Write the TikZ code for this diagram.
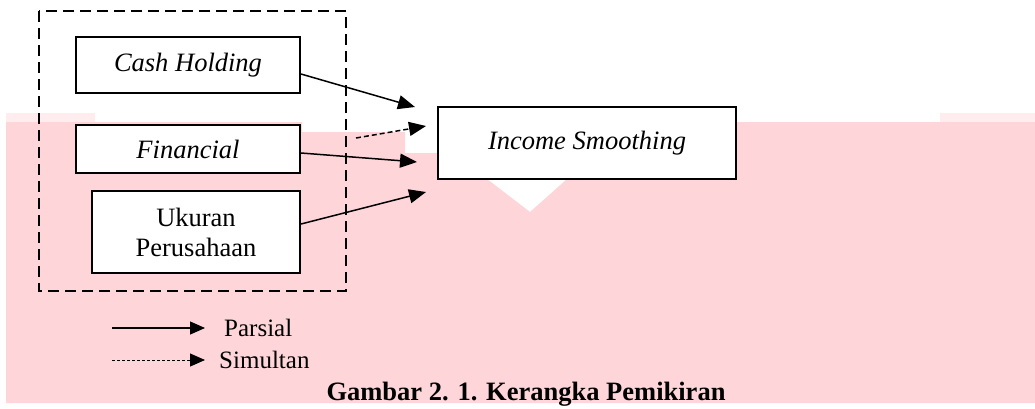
\documentclass[tikz,border=0pt]{standalone}
\usepackage{fontspec}
\setmainfont{Liberation Serif}
\usetikzlibrary{arrows.meta}

\definecolor{scanpink}{RGB}{254,214,217}
\definecolor{scanfade}{RGB}{255,236,238}
\tikzset{
  varbox/.style={draw,line width=2pt,fill=white,inner sep=0pt,align=center,
    font=\fontsize{26.5}{30}\selectfont},
  legtext/.style={inner sep=0pt,anchor=west,font=\fontsize{25}{28}\selectfont},
  parsial/.style={line width=1.5pt,-{Triangle[length=17pt,width=14pt]}},
  simultan/.style={parsial,dash pattern=on 5pt off 3pt},
  legparsial/.style={line width=1.3pt,-{Triangle[length=15pt,width=13pt]}},
  legsimultan/.style={legparsial,line width=1pt,dash pattern=on 3pt off 2pt},
}

\begin{document}
\begin{tikzpicture}[x=1pt,y=-1pt]
  \fill[white] (0,0) rectangle (1035,408);
  \useasboundingbox (0,0) rectangle (1035,408);
  % scanned page tint
  \fill[scanfade] (6,113) rectangle (95,122);
  \fill[scanfade] (940,113) rectangle (1035,122);
  \fill[scanpink] (6,122) -- (302,122) -- (302,132) -- (405,132) -- (405,153)
    -- (438,153) -- (438,179) -- (487,179) -- (530,212) -- (567,179)
    -- (736,179) -- (736,122) -- (1035,122) -- (1035,403) -- (6,403) -- cycle;

  \draw[line width=2.8pt,dash pattern=on 11pt off 6pt] (39,11) rectangle (346,291);

  \node[varbox,minimum width=224pt,minimum height=56pt] (cash) at (188,65) {\textit{Cash Holding}};
  \node[varbox,minimum width=224pt,minimum height=48pt] (fin) at (188,149) {\textit{Financial}};
  \node[varbox,minimum width=208pt,minimum height=82pt] (size) at (196,232) {Ukuran\\Perusahaan};
  \node[varbox,minimum width=298pt,minimum height=72pt] (income) at (587,143) {\textit{Income Smoothing}};

  \coordinate (tipcash) at (415,107);
  \coordinate (tipsim) at (426,126);
  \coordinate (tipfin) at (417,162);
  \coordinate (tipsize) at (426,192);
  \coordinate (simstart) at (356,138);

  \draw[parsial] ([yshift=-9pt]cash.east) -- (tipcash);
  \draw[simultan] (simstart) -- (tipsim);
  \draw[parsial] ([yshift=-4pt]fin.east) -- (tipfin);
  \draw[parsial] ([yshift=8pt]size.east) -- (tipsize);

  % legend
  \node[legtext] (lparsial) at (224,328) {Parsial};
  \node[legtext] (lsimultan) at (219,360) {Simultan};
  \coordinate (legp) at (112,328);
  \coordinate (legs) at (112,360);
  \draw[legparsial] (legp) -- ([xshift=-19pt]lparsial.west);
  \draw[legsimultan] (legs) -- ([xshift=-14pt]lsimultan.west);

  \node[anchor=base,inner sep=0pt,font=\bfseries\fontsize{26.5}{30}\selectfont] (caption) at (526,400)
    {Gambar 2. 1. Kerangka Pemikiran};
\end{tikzpicture}
\end{document}
